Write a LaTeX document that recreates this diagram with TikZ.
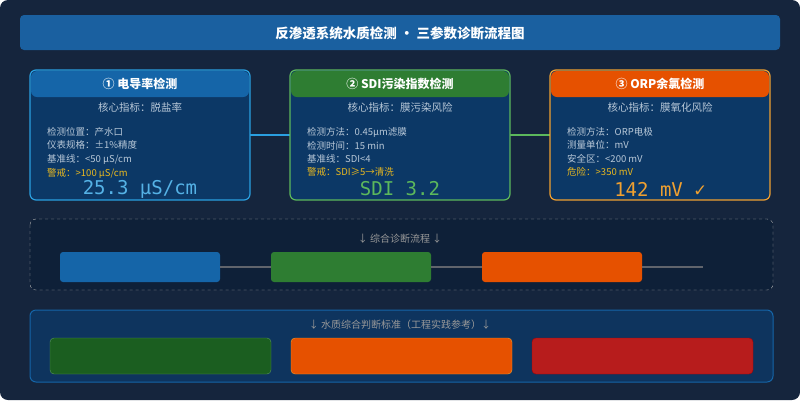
\documentclass[tikz,border=0pt]{standalone}
\usepackage{fontspec}
\setmainfont{Noto Sans CJK SC}
\newfontfamily\monofont{DejaVu Sans Mono}
\usetikzlibrary{positioning}
\definecolor{bgdark}{HTML}{15253D}
\definecolor{titlebar}{HTML}{1A60A0}
\definecolor{cardfill}{HTML}{0C3866}
\definecolor{blueedge}{HTML}{2A9FE0}
\definecolor{bluehead}{HTML}{1565A8}
\definecolor{greenedge}{HTML}{5CB85C}
\definecolor{greenhead}{HTML}{2E7D32}
\definecolor{orangeedge}{HTML}{F0A030}
\definecolor{orangehead}{HTML}{E65100}
\definecolor{softtext}{HTML}{B8C8D8}
\definecolor{warntext}{HTML}{E8B820}
\definecolor{panelfill}{HTML}{0E2038}
\definecolor{stdgreen}{HTML}{1B5E20}
\definecolor{stdred}{HTML}{B71C1C}
\tikzset{
  card/.style={draw=#1, line width=1.2pt, rounded corners=6pt, fill=cardfill},
  head/.style={fill=#1, rounded corners=6pt},
  headtext/.style={text=white, font=\bfseries\fontsize{12}{14}\selectfont},
  keytext/.style={text=softtext, font=\fontsize{10.5}{12}\selectfont},
  info/.style={anchor=west, text=softtext, font=\fontsize{9.5}{11}\selectfont, inner sep=2pt},
  bigval/.style={text=#1, font=\monofont\fontsize{19}{21}\selectfont},
  bar/.style={fill=#1, rounded corners=3pt},
  stdbox/.style={fill=#1, rounded corners=4pt}
}
\begin{document}
\begin{tikzpicture}[x=1pt,y=-1pt]
  \fill[bgdark, rounded corners=8pt] (0,0) rectangle (800,400);
  \useasboundingbox (0,0) rectangle (800,400);

  % title
  \fill[titlebar, rounded corners=4pt] (20,15) rectangle (780,50);
  \node[text=white, font=\bfseries\fontsize{13.5}{15}\selectfont] (Title) at (400,33)
       {反渗透系统水质检测 · 三参数诊断流程图};

  % connectors behind cards
  \draw[blueedge, line width=1.5pt] (250,135) coordinate (C1r) -- (290,135) coordinate (C2l);
  \draw[greenedge, line width=1.5pt] (510,135) coordinate (C2r) -- (550,135) coordinate (C3l);

  % cards
  \foreach \x/\edge/\hd in {30/blueedge/bluehead, 290/greenedge/greenhead, 550/orangeedge/orangehead} {
    \draw[card=\edge] (\x,70) rectangle ++(220,130);
    \fill[head=\hd] (\x+1,71) rectangle ++(218,26);
  }

  \node[headtext] (H1) at (140,84) {① 电导率检测};
  \node[keytext] (K1) at (140,107) {核心指标：脱盐率};
  \node[info] (A1) at (45,132) {检测位置：产水口};
  \node[info, below=0pt of A1.south west, anchor=north west] (B1) {仪表规格：±1\%精度};
  \node[info, below=0pt of B1.south west, anchor=north west] (D1) {基准线：<50 μS/cm};
  \node[info, text=warntext, below=0pt of D1.south west, anchor=north west] (W1) {警戒：>100 μS/cm};
  \node[bigval=blueedge!80!white] (V1) at (140,189) {25.3 μS/cm};

  \node[headtext] (H2) at (400,84) {② SDI污染指数检测};
  \node[keytext] (K2) at (400,107) {核心指标：膜污染风险};
  \node[info] (A2) at (305,132) {检测方法：0.45μm滤膜};
  \node[info, below=0pt of A2.south west, anchor=north west] (B2) {检测时间：15 min};
  \node[info, below=0pt of B2.south west, anchor=north west] (D2) {基准线：SDI<4};
  \node[info, text=warntext, below=0pt of D2.south west, anchor=north west] (W2) {警戒：SDI≥5→清洗};
  \node[bigval=greenedge] (V2) at (400,189) {SDI 3.2};

  \node[headtext] (H3) at (660,84) {③ ORP余氯检测};
  \node[keytext] (K3) at (660,107) {核心指标：膜氧化风险};
  \node[info] (A3) at (565,132) {检测方法：ORP电极};
  \node[info, below=0pt of A3.south west, anchor=north west] (B3) {测量单位：mV};
  \node[info, below=0pt of B3.south west, anchor=north west] (D3) {安全区：<200 mV};
  \node[info, text=warntext, below=0pt of D3.south west, anchor=north west] (W3) {危险：>350 mV};
  \node[bigval=orangeedge] (V3) at (660,189) {142 mV ✓};

  % diagnosis flow
  \draw[gray!60, dashed, fill=panelfill, rounded corners=6pt] (30,219) rectangle (773,290);
  \node[text=gray!80, font=\fontsize{10}{12}\selectfont] (FlowT) at (400,239) {↓ 综合诊断流程 ↓};
  \coordinate (FlowEnd) at (703,267);
  \node[bar=bluehead, minimum width=160pt, minimum height=30pt, inner sep=0pt] (P1) at (140,267) {};
  \node[bar=greenhead, minimum width=160pt, minimum height=30pt, inner sep=0pt] (P2) at (351,267) {};
  \node[bar=orangehead, minimum width=160pt, minimum height=30pt, inner sep=0pt] (P3) at (562,267) {};
  \draw[gray!70!bgdark, line width=1.5pt] (P1) -- (P2);
  \draw[gray!70!bgdark, line width=1.5pt] (P2) -- (P3);
  \draw[gray!70!bgdark, line width=1.5pt] (P3) -- (FlowEnd);

  % standards
  \draw[bluehead, line width=1pt, fill=cardfill!80!bgdark, rounded corners=6pt] (30,310) rectangle (773,382);
  \node[text=gray!80, font=\fontsize{10}{12}\selectfont] (StdT) at (400,325) {↓ 水质综合判断标准（工程实践参考）↓};
  \draw[stdbox=stdgreen, draw=greenhead!80!white] (50,338) rectangle (271,374);
  \draw[stdbox=orangehead, draw=orangeedge] (291,338) rectangle (512,374);
  \draw[stdbox=stdred, draw=red!70!black] (532,338) rectangle (753,374);
\end{tikzpicture}
\end{document}
